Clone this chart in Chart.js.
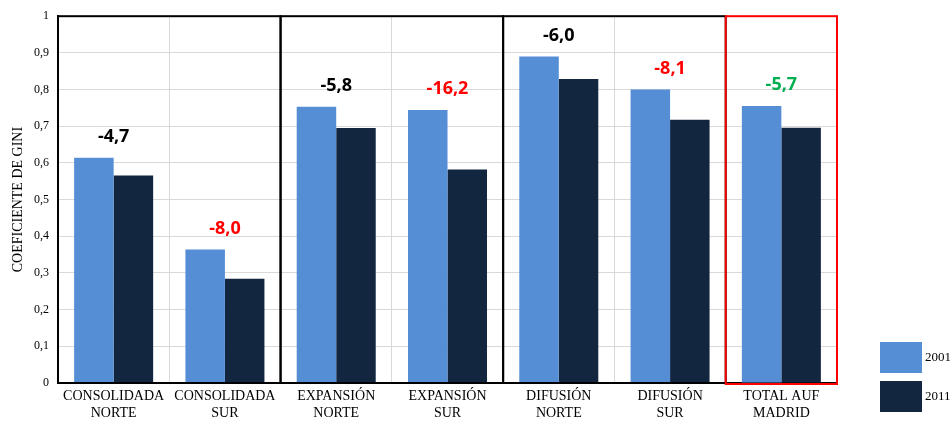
<!DOCTYPE html>
<html>
<head>
<meta charset="utf-8">
<script src="https://cdn.jsdelivr.net/npm/chart.js@4/dist/chart.umd.min.js"></script>
<style>
  html, body { margin: 0; padding: 0; background: #fff; }
  #wrap { width: 952px; height: 425px; }
</style>
</head>
<body>
<div id="wrap"><canvas id="c" width="952" height="425"></canvas></div>
<script>
// --- data ---
var categories = [
  ['CONSOLIDADA', 'NORTE'],
  ['CONSOLIDADA', 'SUR'],
  ['EXPANSIÓN', 'NORTE'],
  ['EXPANSIÓN', 'SUR'],
  ['DIFUSIÓN', 'NORTE'],
  ['DIFUSIÓN', 'SUR'],
  ['TOTAL AUF', 'MADRID']
];
var gini2001 = [0.614, 0.364, 0.753, 0.744, 0.890, 0.800, 0.755];
var gini2011 = [0.566, 0.284, 0.695, 0.582, 0.829, 0.718, 0.696];
var changeLabels = ['-4,7', '-8,0', '-5,8', '-16,2', '-6,0', '-8,1', '-5,7'];
var changeColors = ['#000000', '#ff0000', '#000000', '#ff0000', '#000000', '#ff0000', '#00b050'];
// groups framed with a box: [first category, last category, colour]
var groups = [[0, 1, '#000000'], [2, 3, '#000000'], [4, 5, '#000000'], [6, 6, '#ff0000']];

var serif = '"Liberation Serif", "Times New Roman", serif';

// labels over each pair of bars
var changePlugin = {
  id: 'changeLabels',
  afterDatasetsDraw: function(chart) {
    var ctx = chart.ctx;
    var x = chart.scales.x, y = chart.scales.y;
    ctx.save();
    ctx.font = 'bold 18px "Open Sans", sans-serif';
    ctx.textAlign = 'center';
    ctx.textBaseline = 'middle';
    changeLabels.forEach(function(txt, i) {
      var top = Math.max(gini2001[i], gini2011[i]);
      ctx.fillStyle = changeColors[i];
      ctx.fillText(txt, x.getPixelForValue(i), y.getPixelForValue(top) - 21);
    });
    ctx.restore();
  }
};

// frames around the zones
var boxPlugin = {
  id: 'zoneBoxes',
  afterDraw: function(chart) {
    var ctx = chart.ctx;
    var x = chart.scales.x, area = chart.chartArea;
    var half = (x.getPixelForValue(1) - x.getPixelForValue(0)) / 2;
    ctx.save();
    ctx.lineWidth = 2;
    groups.forEach(function(g) {
      var l = x.getPixelForValue(g[0]) - half;
      var r = x.getPixelForValue(g[1]) + half;
      ctx.strokeStyle = g[2];
      ctx.strokeRect(l, area.top, r - l, area.bottom - area.top + (g[2] == '#ff0000' ? 1 : 0));
    });
    ctx.restore();
  }
};

// legend squares at bottom right
var legendPlugin = {
  id: 'sideLegend',
  afterDraw: function(chart) {
    var ctx = chart.ctx;
    ctx.save();
    ctx.font = '13px ' + serif;
    ctx.textBaseline = 'middle';
    chart.data.datasets.forEach(function(ds, i) {
      var top = 342 + i * 39;
      ctx.fillStyle = ds.backgroundColor;
      ctx.fillRect(880, top, 42, 31);
      ctx.fillStyle = '#000';
      ctx.fillText(ds.label, 925, top + 16);
    });
    ctx.restore();
  }
};

var chart = new Chart(document.getElementById('c'), {
  type: 'bar',
  data: {
    labels: categories,
    datasets: [
      { label: '2001', data: gini2001, backgroundColor: '#558ed5' },
      { label: '2011', data: gini2011, backgroundColor: '#12263f' }
    ]
  },
  options: {
    responsive: false,
    animation: false,
    layout: { padding: { top: 13, right: 115, left: 0, bottom: 0 } },
    datasets: { bar: { categoryPercentage: 0.71, barPercentage: 1.0 } },
    plugins: {
      legend: { display: false },
      tooltip: { enabled: false }
    },
    scales: {
      x: {
        afterFit: function(s) { s.height = 42; },
        grid: { color: '#d9d9d9', drawTicks: false, offset: true },
        border: { color: '#000', width: 2 },
        ticks: { color: '#000', font: { family: serif, size: 14 }, padding: 5, maxRotation: 0, autoSkip: false }
      },
      y: {
        min: 0, max: 1,
        afterFit: function(s) { s.width = 58; },
        grid: { color: '#d9d9d9', drawTicks: false },
        border: { color: '#000', width: 2 },
        ticks: {
          stepSize: 0.1, color: '#000', padding: 9,
          font: { family: serif, size: 12 },
          callback: function(v) { return (Math.round(v * 10) / 10).toString().replace('.', ','); }
        },
        title: { display: true, text: 'COEFICIENTE DE GINI', color: '#000', font: { family: serif, size: 14 }, padding: { top: 10, bottom: 0 } }
      }
    }
  },
  plugins: [changePlugin, boxPlugin, legendPlugin]
});
</script>
</body>
</html>
